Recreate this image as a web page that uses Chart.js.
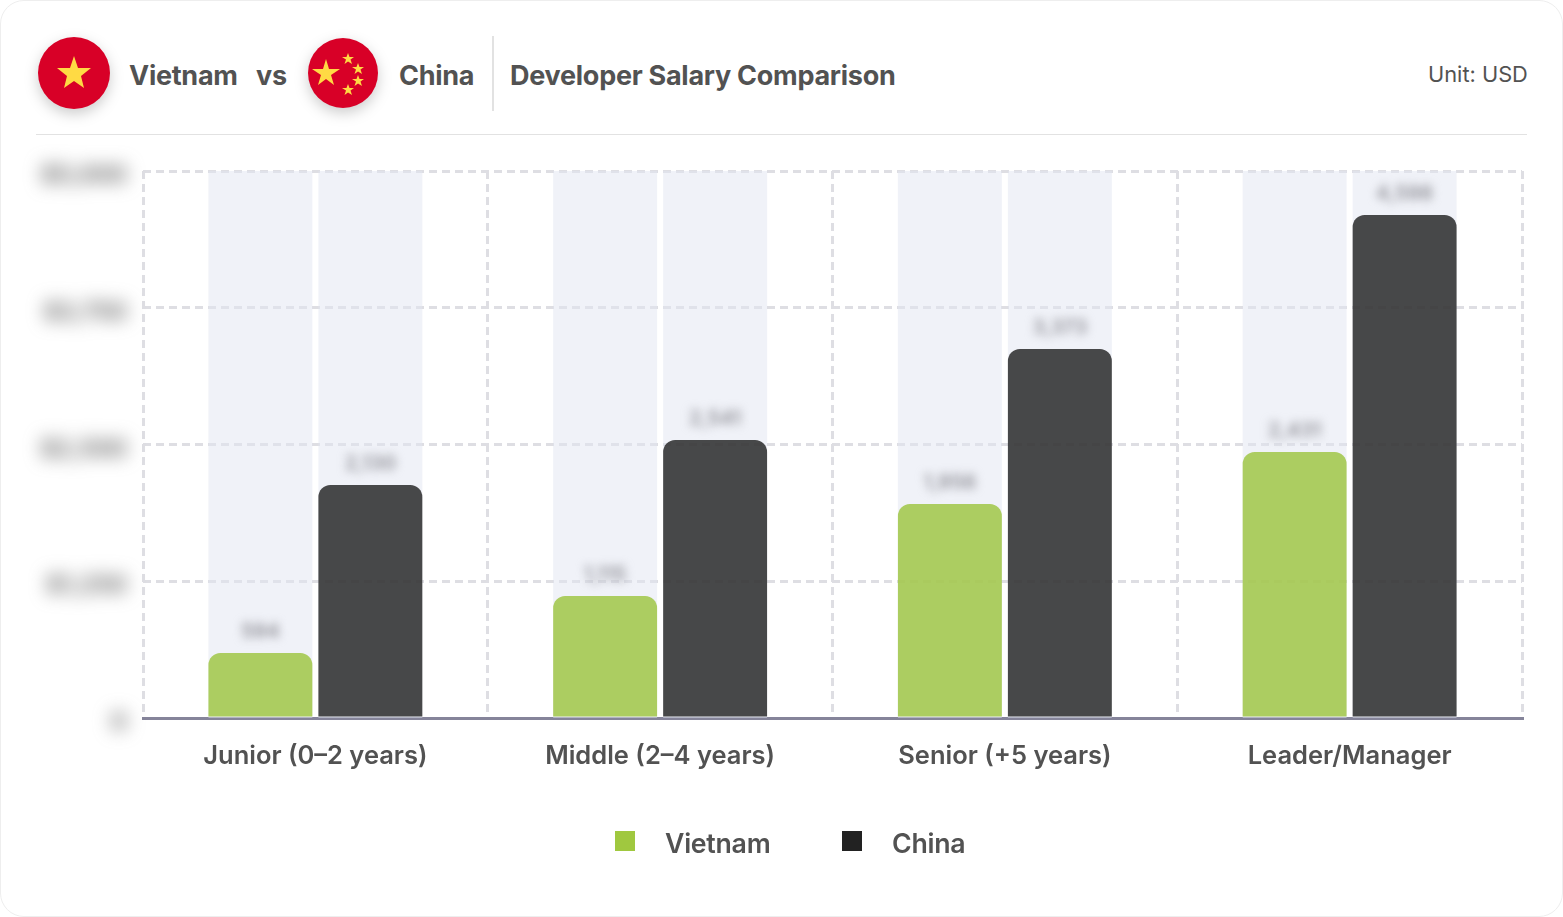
<!DOCTYPE html>
<html>
<head>
<meta charset="utf-8">
<title>Developer Salary Comparison</title>
<script src="https://cdn.jsdelivr.net/npm/chart.js@4"></script>
<style>
    html, body { margin: 0; padding: 0; background: #fff; }
    body { width: 1563px; height: 917px; position: relative; overflow: hidden; font-family: Inter, sans-serif; color: #525252; }
    #card { position: absolute; left: 0; top: 0; width: 1561px; height: 915px; border: 1px solid #eeeeee; border-radius: 24px; }
    #salary-chart { position: absolute; left: 0; top: 0; }
    .txt { position: absolute; white-space: nowrap; line-height: 30px; font-size: 27px; font-weight: 700; letter-spacing: -0.27px; }
    .flag { position: absolute; filter: drop-shadow(0 5px 7px rgba(0,0,0,.2)); }
    .rule { position: absolute; background: #e2e2e2; }
    #legend span { position: absolute; }
    #legend .box { width: 20px; height: 20px; top: 831px; }
    #legend .name { top: 828px; line-height: 30px; font-size: 26.7px; font-weight: 600; letter-spacing: -0.27px; }
</style>
</head>
<body>
<div id="card"></div>

<svg class="flag" style="left:38px;top:37px" width="72" height="72" viewBox="0 0 72 72">
    <circle cx="36" cy="36" r="36" fill="#d80027"/>
    <polygon fill="#ffda44" points="36,19 40,31 53,31 43,39 46,51 36,44 26,51 29,39 19,31 32,31"/>
</svg>
<svg class="flag" style="left:308px;top:38px" width="70" height="70" viewBox="0 0 70 70">
    <circle cx="35" cy="35" r="35" fill="#d80027"/>
    <polygon fill="#ffda44" points="18,21 21,31 32,31 23,37 26,47 18,41 10,47 13,37 4,31 15,31"/>
    <polygon fill="#ffda44" points="40,15 41.5,19 46,19 42.5,21.5 44,26 40,23.5 36.5,26 38,21.5 34,19 38.5,19"/>
    <polygon fill="#ffda44" points="50,25 51.5,29 56,29 52.5,31.5 54,36 50,33.5 46.5,36 48,31.5 44,29 48.5,29"/>
    <polygon fill="#ffda44" points="50,37 51.5,41 56,41 52.5,43.5 54,48 50,45.5 46.5,48 48,43.5 44,41 48.5,41"/>
    <polygon fill="#ffda44" points="40,46 41.5,50 46,50 42.5,52.5 44,57 40,54.5 36.5,57 38,52.5 34,50 38.5,50"/>
</svg>

<div class="txt" style="left:129px;top:61px">Vietnam</div>
<div class="txt" style="left:256px;top:61px">vs</div>
<div class="txt" style="left:399px;top:61px">China</div>
<div class="rule" style="left:492px;top:36px;width:2px;height:75px"></div>
<div class="txt" style="left:510px;top:61px">Developer Salary Comparison</div>
<div class="txt" style="left:1428px;top:59px;font-size:21.8px;font-weight:400;letter-spacing:0">Unit: USD</div>
<div class="rule" style="left:36px;top:134px;width:1491px;height:1px"></div>

<canvas id="salary-chart" width="1563" height="917"></canvas>
<div id="legend"></div>

<script>
// values, the printed figures are blurred in the source
const categories = ['Junior (0–2 years)', 'Middle (2–4 years)', 'Senior (+5 years)', 'Leader/Manager'];
const vietnam = [594, 1115, 1956, 2431];
const china = [2130, 2541, 3373, 4598];
const yTicks = [0, 1250, 2500, 3750, 5000];

const seriesNames = ['Vietnam', 'China'];
const legendColors = ['#a0c83f', '#222222'];

const fmt = v => v >= 1000 ? v.toLocaleString('en-US') : String(v);

// pale full height column behind each bar
const barTracks = {
    id: 'barTracks',
    beforeDatasetsDraw(chart){
        const c = chart.ctx;
        const area = chart.chartArea;

        c.save();
        c.fillStyle = 'rgba(226,229,241,.5)';
        [0, 1].forEach(i => {
            chart.getDatasetMeta(i).data.forEach(bar => {
                c.fillRect(bar.x - bar.width / 2, area.top, bar.width, area.bottom - area.top);
            });
        });
        c.restore();
    }
};

// the figures are blurred on purpose, so they go on the canvas with a filter
const blurredLabels = {
    id: 'blurredLabels',
    afterDatasetsDraw(chart){
        const c = chart.ctx;
        const y = chart.scales.y;

        c.save();
        c.textBaseline = 'middle';

        c.filter = 'blur(9px)';
        c.fillStyle = '#6a6a6a';
        c.font = '700 24px Inter';
        c.textAlign = 'right';
        yTicks.forEach(t => c.fillText(t === 0 ? '0' : '$' + fmt(t), 127, y.getPixelForValue(t) + 5));

        c.filter = 'blur(5px)';
        c.fillStyle = '#8f8f96';
        c.font = '600 20px Inter';
        c.textAlign = 'center';
        [0, 1].forEach(i => {
            chart.getDatasetMeta(i).data.forEach((bar, j) => {
                c.fillText(fmt(chart.data.datasets[i].data[j]), bar.x, bar.y - 21);
            });
        });
        c.restore();
    }
};

const ctx = document.getElementById('salary-chart');

const chart = new Chart(ctx, {
    type: 'bar',
    data: {
        labels: categories,
        datasets: [
            { label: seriesNames[0], data: vietnam, backgroundColor: 'rgba(157,197,63,.82)', borderRadius: { topLeft: 12, topRight: 12 } },
            { label: seriesNames[1], data: china, backgroundColor: 'rgba(34,34,34,.82)', borderRadius: { topLeft: 12, topRight: 12 } }
        ]
    },
    options: {
        responsive: false,
        animation: false,
        events: [],
        categoryPercentage: 0.638,
        barPercentage: 0.945,
        layout: { padding: { left: 143, right: 41, top: 171, bottom: 139 } },
        scales: {
            x: {
                afterFit(s){ s.height = 60; },
                grid: { color: '#dedee3', lineWidth: 3, drawTicks: false },
                border: { color: '#85849a', width: 3, dash: [8, 5] },
                ticks: { color: '#525252', padding: 23, maxRotation: 0, font: { family: 'Inter', size: 25.5, weight: '600' } }
            },
            y: {
                min: 0,
                max: 5000,
                afterFit(s){ s.width = 0; },
                afterBuildTicks(s){ s.ticks = yTicks.map(v => ({ value: v })); },
                grid: { color: '#dedee3', lineWidth: 3, drawTicks: false },
                border: { display: false, dash: [8, 5] },
                ticks: { display: false }
            }
        },
        plugins: {
            legend: { display: false },
            tooltip: { enabled: false }
        }
    },
    plugins: [barTracks, blurredLabels]
});

// legend under the chart, same names as the datasets
const legend = document.getElementById('legend');
const boxX = [615, 842];
const nameX = [665, 892];
seriesNames.forEach((name, i) => {
    legend.insertAdjacentHTML('beforeend',
        '<span class="box" style="left:' + boxX[i] + 'px;background:' + legendColors[i] + '"></span>' +
        '<span class="name" style="left:' + nameX[i] + 'px">' + name + '</span>');
});
</script>
</body>
</html>
